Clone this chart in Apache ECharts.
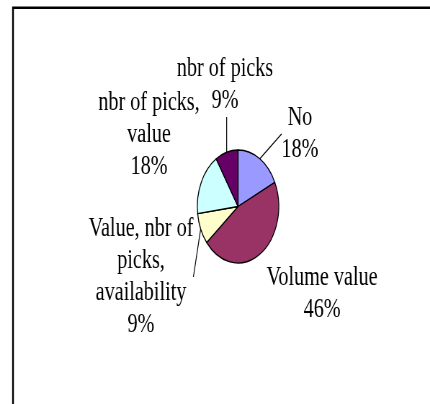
<!DOCTYPE html>
<html>
<head>
<meta charset="utf-8">
<script src="https://cdn.jsdelivr.net/npm/echarts@6/dist/echarts.min.js"></script>
<style>
  html, body { margin: 0; padding: 0; background: #fff; overflow: hidden; }
  #wrap { width: 430px; height: 404px; overflow: hidden; }
  /* the chart is laid out wide and squeezed horizontally, giving the oval pie and narrow type */
  #chart { width: 597px; height: 404px; transform: scaleX(0.7203); transform-origin: 0 0; }
</style>
</head>
<body>
<div id="wrap"><div id="chart"></div></div>
<script>
// Data
const categories = ['No', 'Volume value', 'Value, nbr of picks, availability', 'nbr of picks, value', 'nbr of picks'];
const wrappedNames = ['No', 'Volume value', 'Value, nbr of\npicks,\navailability', 'nbr of picks,\nvalue', 'nbr of picks'];
const shares = [18, 46, 9, 18, 9];
const sliceColors = ['#9999ff', '#993366', '#ffffcc', '#ccffff', '#660066'];

// Layout (page pixels; x is divided by the squeeze factor to get canvas x)
const S = 430 / 597;
const pieCenter = [238 / S, 206.5];
const pieRadius = 56.5;
const labelCenters = [[300, 134], [322, 294], [141, 277], [149, 135], [225, 85]];
const hasLeader = [true, false, true, false, true];

const total = shares.reduce((a, b) => a + b, 0);
const startShare = [];
shares.reduce((acc, v, i) => { startShare[i] = acc; return acc + v; }, 0);

const chart = echarts.init(document.getElementById('chart'), null, { renderer: 'canvas' });

chart.setOption({
  animation: false,
  backgroundColor: '#fff',
  graphic: [{
    type: 'rect',
    shape: { x: 13 / S, y: 7.7, width: 2000, height: 2000 },
    style: { fill: 'none', stroke: '#000', lineWidth: 2.4 },
    silent: true
  }],
  series: [{
    type: 'pie',
    center: pieCenter,
    radius: pieRadius,
    startAngle: 90,
    clockwise: true,
    avoidLabelOverlap: false,
    silent: true,
    itemStyle: { borderColor: '#000', borderWidth: 1.3 },
    label: {
      show: true,
      position: 'outside',
      fontFamily: 'Liberation Serif, Times New Roman, serif',
      fontSize: 28,
      lineHeight: 32,
      color: '#000',
      align: 'center',
      formatter: p => wrappedNames[p.dataIndex] + '\n' + p.value + '%'
    },
    labelLine: { show: true, lineStyle: { color: '#000', width: 1.2 } },
    labelLayout: function (p) {
      const i = p.dataIndex;
      const x = labelCenters[i][0] / S;
      const y = labelCenters[i][1];
      const w = p.labelRect.width;
      const h = p.labelRect.height;
      const res = { x: x, y: y, align: 'center', verticalAlign: 'middle' };
      if (hasLeader[i]) {
        // leader runs from the slice edge at its mid-angle to the nearest side of the label
        const mid = (startShare[i] + shares[i] / 2) / total * 2 * Math.PI;
        const px = pieCenter[0] + pieRadius * Math.sin(mid);
        const py = pieCenter[1] - pieRadius * Math.cos(mid);
        let qx, qy;
        if (px < x - w / 2) { qx = x - w / 2; qy = y; }
        else if (px > x + w / 2) { qx = x + w / 2; qy = y; }
        else if (py > y + h / 2) { qx = px; qy = y + h / 2; }
        else { qx = px; qy = y - h / 2; }
        res.labelLinePoints = [[px, py], [qx, qy], [qx, qy]];
      }
      return res;
    },
    emphasis: { disabled: true },
    data: categories.map((name, i) => ({
      name: name,
      value: shares[i],
      itemStyle: { color: sliceColors[i] },
      labelLine: { show: hasLeader[i] }
    }))
  }]
});
</script>
</body>
</html>
